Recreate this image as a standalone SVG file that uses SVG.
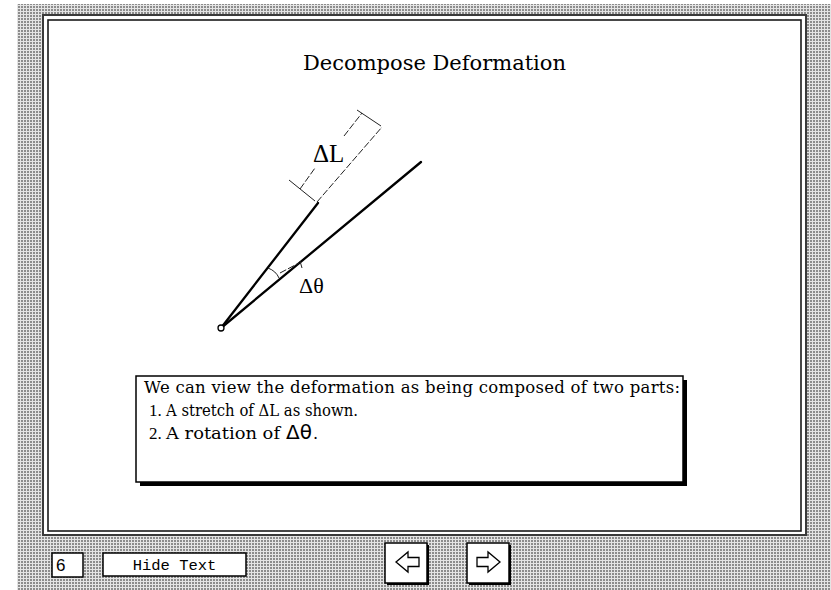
<svg xmlns="http://www.w3.org/2000/svg" width="831" height="590" viewBox="0 0 831 590">
<defs>
<pattern id="dots" width="3" height="3" patternUnits="userSpaceOnUse">
<rect width="3" height="3" fill="#e4e4e4"/>
<rect width="2" height="2" fill="#8c8c8c"/>
</pattern>
<style>
.serif{font-family:"DejaVu Serif","Liberation Serif",serif;fill:#000}
.times{font-family:"Liberation Serif","Times New Roman",serif;fill:#000}
.mono{font-family:"Liberation Mono","Courier New",monospace;fill:#000}
.sans{font-family:"Liberation Sans",Arial,sans-serif;fill:#000}
.dsans{font-family:"DejaVu Sans","Liberation Sans",sans-serif;fill:#000}
.thick{stroke:#000;stroke-width:2.3;fill:none;stroke-linecap:round}
.dash{stroke:#222;stroke-width:1;fill:none;stroke-dasharray:7 2}
.thin{stroke:#222;stroke-width:1;fill:none}
.btn{fill:#fff;stroke:#000;stroke-width:1.5}
.arrow{fill:#fff;stroke:#000;stroke-width:1.3;stroke-linejoin:miter}
</style>
</defs>
<rect width="831" height="590" fill="#fff"/>
<rect x="17" y="4" width="814" height="586" fill="url(#dots)"/>
<g id="frame">
<rect x="43" y="15" width="763" height="520" fill="#fff" stroke="#3a3a3a" stroke-width="2"/>
<rect x="48" y="20" width="753" height="511" fill="#fff" stroke="#1a1a1a" stroke-width="1.6"/>
</g>
<g id="title">
<text class="serif" x="303" y="70" font-size="21" textLength="263" lengthAdjust="spacingAndGlyphs">Decompose Deformation</text>
</g>
<g id="connectors">
<line class="thick" x1="221" y1="328" x2="318" y2="203"/>
<line class="thick" x1="221" y1="328" x2="421" y2="162"/>
<line class="dash" x1="317" y1="202" x2="382" y2="127"/>
<line class="thin" x1="289" y1="180" x2="315" y2="201"/>
<line class="thin" x1="357" y1="110" x2="381" y2="126"/>
<line class="dash" x1="300" y1="189" x2="315" y2="168"/>
<line class="dash" x1="344" y1="136" x2="362" y2="113"/>
<path class="thin" d="M268 268 Q276 271 279 278"/>
<line class="dash" x1="280" y1="273" x2="299" y2="263"/>
<line class="thin" x1="300" y1="261" x2="302" y2="268"/>
</g>
<g id="origin">
<circle cx="221" cy="328" r="3" fill="#fff" stroke="#000" stroke-width="1.3"/>
</g>
<g id="label-dL">
<text class="times" x="313" y="162" font-size="25">ΔL</text>
</g>
<g id="label-dtheta">
<text class="times" x="299" y="293" font-size="22">Δθ</text>
</g>
<g id="textbox">
<rect x="140" y="380" width="547" height="106" fill="#000"/>
<rect x="136" y="376" width="547" height="106" fill="#fff" stroke="#000" stroke-width="1.5"/>
<text class="serif" x="144" y="393" font-size="16.5" textLength="536" lengthAdjust="spacing">We can view the deformation as being composed of two parts:</text>
<text class="times" x="149" y="416" font-size="17">1.</text>
<text class="serif" x="166" y="416" font-size="16" textLength="192" lengthAdjust="spacingAndGlyphs">A stretch of ΔL as shown.</text>
<text class="times" x="149" y="439" font-size="17">2.</text>
<text class="serif" x="166" y="439" font-size="16" textLength="114" lengthAdjust="spacingAndGlyphs">A rotation of</text>
<text class="dsans" x="286" y="439" font-size="20">Δθ</text>
<text class="serif" x="313" y="439" font-size="16">.</text>
</g>
<g id="page-number">
<rect class="btn" x="52" y="553" width="31" height="24"/>
<text class="sans" x="56" y="571" font-size="17">6</text>
</g>
<g id="hide-text">
<rect class="btn" x="103" y="553" width="143" height="23"/>
<text class="mono" x="174.5" y="570" font-size="15.5" text-anchor="middle">Hide Text</text>
</g>
<g id="prev-button">
<rect x="387" y="545" width="42" height="40" fill="#000"/>
<rect class="btn" x="385" y="543" width="42" height="40"/>
<path class="arrow" d="M396 562 L408 552 L408 557.5 L419 557.5 L419 566.5 L408 566.5 L408 572 Z"/>
</g>
<g id="next-button">
<rect x="469" y="545" width="42" height="40" fill="#000"/>
<rect class="btn" x="467" y="543" width="42" height="40"/>
<path class="arrow" d="M500 562 L488 552 L488 557.5 L477 557.5 L477 566.5 L488 566.5 L488 572 Z"/>
</g>
</svg>
